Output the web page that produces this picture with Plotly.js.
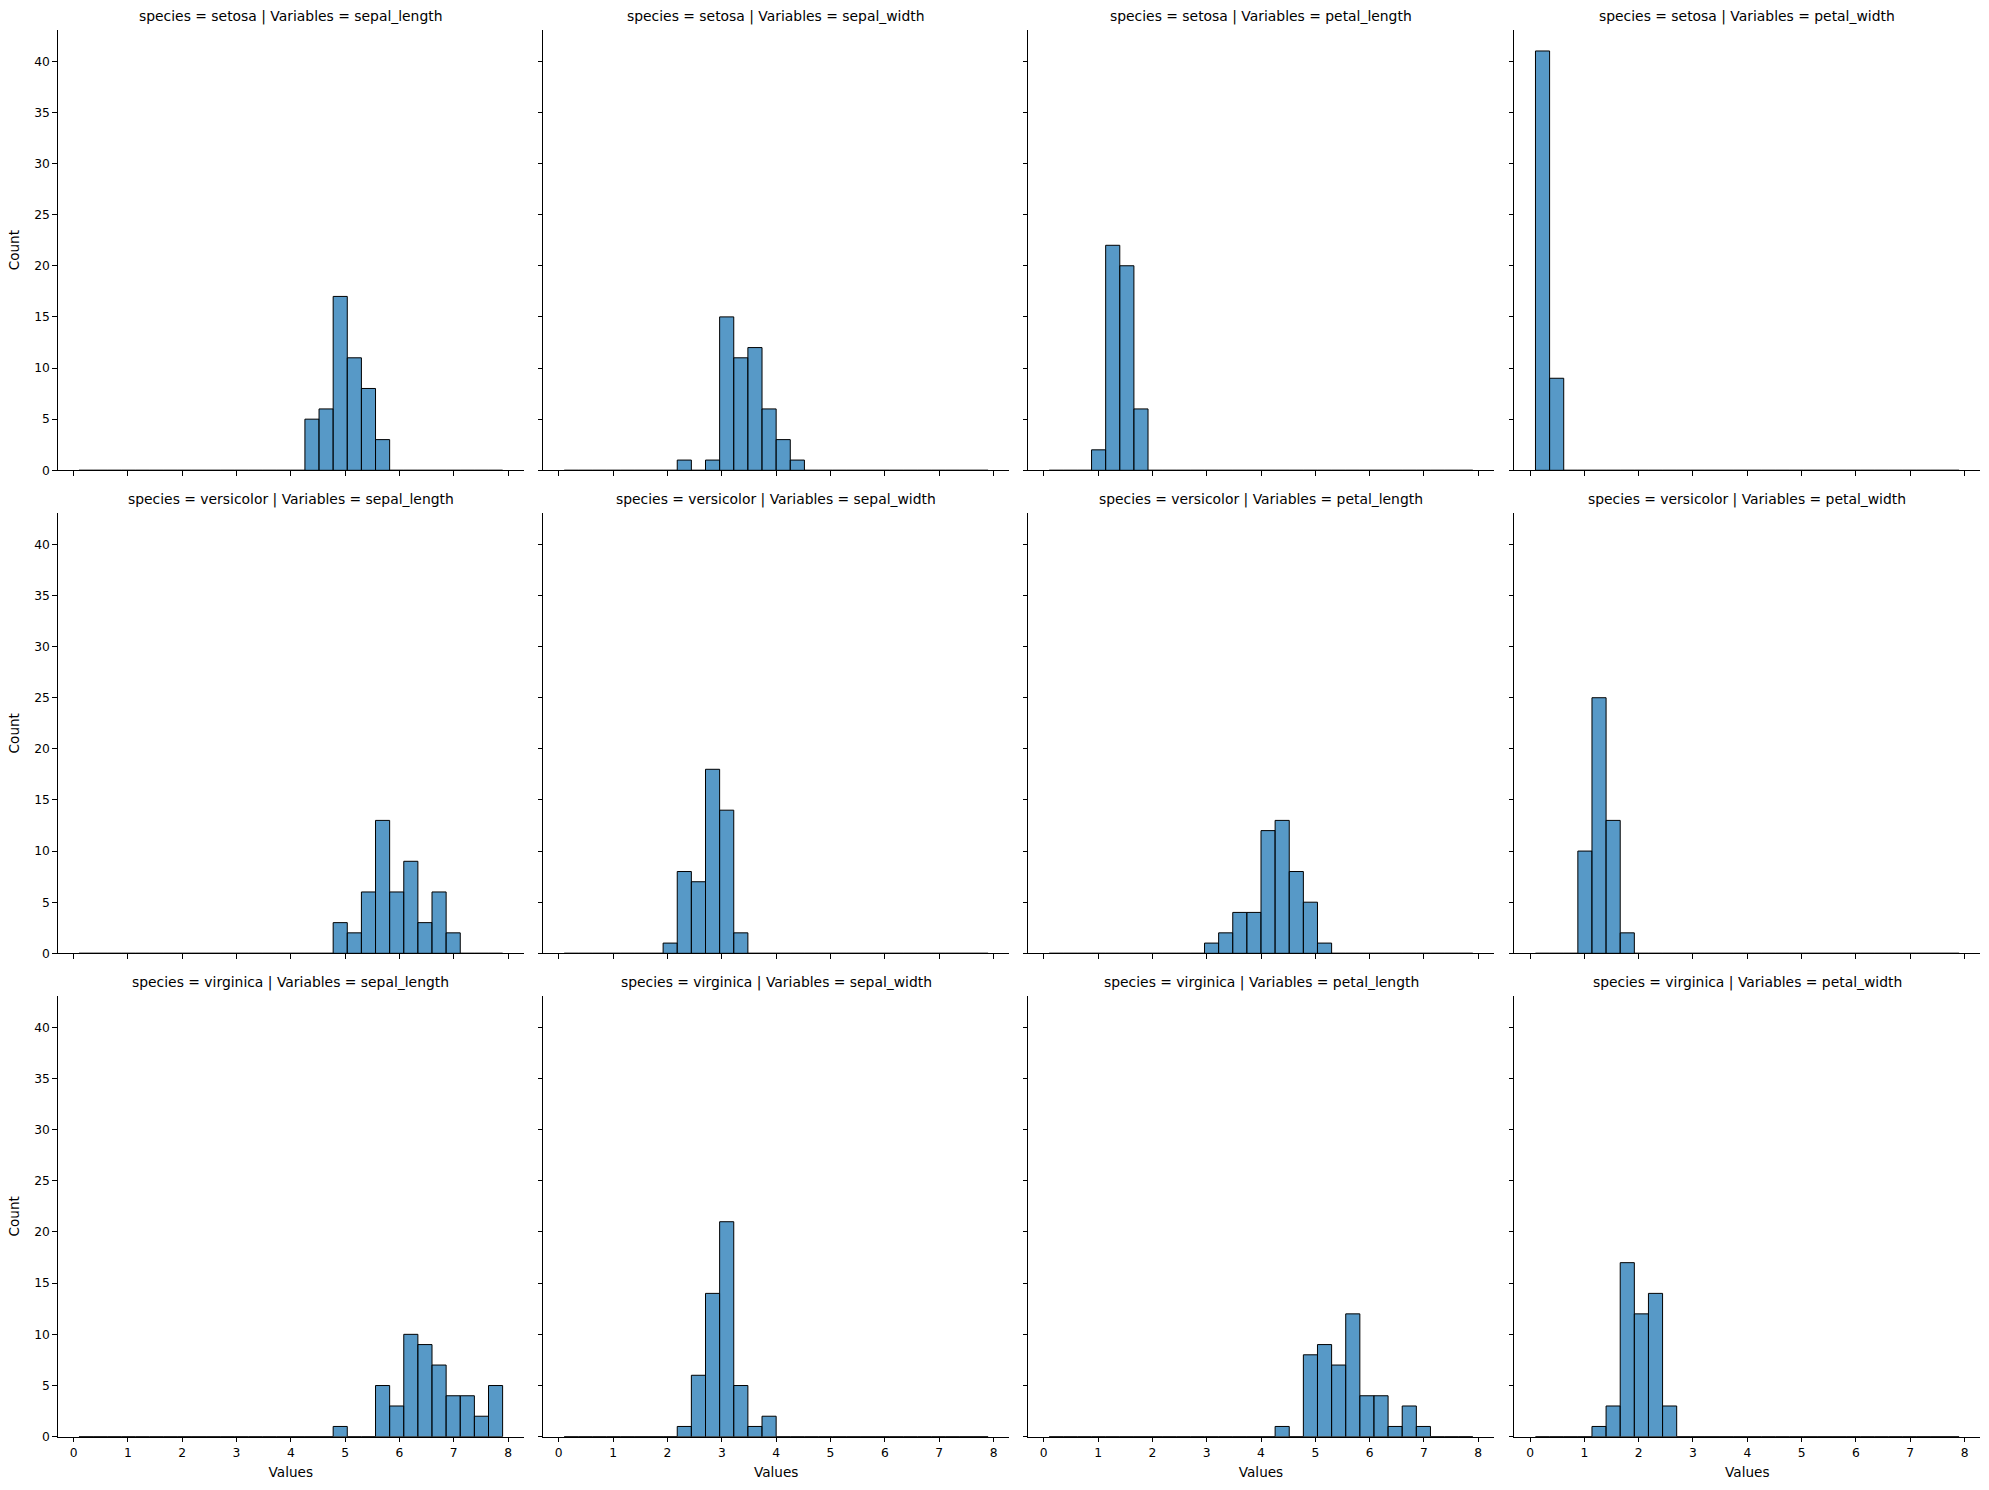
<!DOCTYPE html>
<html>
<head>
<meta charset="utf-8">
<script src="https://cdn.plot.ly/plotly-3.0.1.min.js"></script>
<style>
  html, body { margin: 0; padding: 0; background: #ffffff; }
  #chart { width: 1989px; height: 1490px; }
</style>
</head>
<body>
<div id="chart"></div>
<script>
// ---- Data ----
const species = ["setosa", "versicolor", "virginica"];
const variables = ["sepal_length", "sepal_width", "petal_length", "petal_width"];

// 30 shared histogram bins (31 edges)
const binEdges = [0.1, 0.36, 0.62, 0.88, 1.14, 1.4, 1.66, 1.92, 2.18, 2.44, 2.7, 2.96, 3.22, 3.48, 3.74,
                  4.0, 4.26, 4.52, 4.78, 5.04, 5.3, 5.56, 5.82, 6.08, 6.34, 6.6, 6.86, 7.12, 7.38, 7.64, 7.9];

const setosaSepalLength     = [0,0,0,0,0,0,0,0,0,0,0,0,0,0,0,0,5,6,17,11,8,3,0,0,0,0,0,0,0,0];
const setosaSepalWidth      = [0,0,0,0,0,0,0,0,1,0,1,15,11,12,6,3,1,0,0,0,0,0,0,0,0,0,0,0,0,0];
const setosaPetalLength     = [0,0,0,2,22,20,6,0,0,0,0,0,0,0,0,0,0,0,0,0,0,0,0,0,0,0,0,0,0,0];
const setosaPetalWidth      = [41,9,0,0,0,0,0,0,0,0,0,0,0,0,0,0,0,0,0,0,0,0,0,0,0,0,0,0,0,0];

const versicolorSepalLength = [0,0,0,0,0,0,0,0,0,0,0,0,0,0,0,0,0,0,3,2,6,13,6,9,3,6,2,0,0,0];
const versicolorSepalWidth  = [0,0,0,0,0,0,0,1,8,7,18,14,2,0,0,0,0,0,0,0,0,0,0,0,0,0,0,0,0,0];
const versicolorPetalLength = [0,0,0,0,0,0,0,0,0,0,0,1,2,4,4,12,13,8,5,1,0,0,0,0,0,0,0,0,0,0];
const versicolorPetalWidth  = [0,0,0,10,25,13,2,0,0,0,0,0,0,0,0,0,0,0,0,0,0,0,0,0,0,0,0,0,0,0];

const virginicaSepalLength  = [0,0,0,0,0,0,0,0,0,0,0,0,0,0,0,0,0,0,1,0,0,5,3,10,9,7,4,4,2,5];
const virginicaSepalWidth   = [0,0,0,0,0,0,0,0,1,6,14,21,5,1,2,0,0,0,0,0,0,0,0,0,0,0,0,0,0,0];
const virginicaPetalLength  = [0,0,0,0,0,0,0,0,0,0,0,0,0,0,0,0,1,0,8,9,7,12,4,4,1,3,1,0,0,0];
const virginicaPetalWidth   = [0,0,0,0,1,3,17,12,14,3,0,0,0,0,0,0,0,0,0,0,0,0,0,0,0,0,0,0,0,0];

const xTickVals = [0, 1, 2, 3, 4, 5, 6, 7, 8];
const yTickVals = [0, 5, 10, 15, 20, 25, 30, 35, 40];

const counts = [
  [setosaSepalLength, setosaSepalWidth, setosaPetalLength, setosaPetalWidth],
  [versicolorSepalLength, versicolorSepalWidth, versicolorPetalLength, versicolorPetalWidth],
  [virginicaSepalLength, virginicaSepalWidth, virginicaPetalLength, virginicaPetalWidth]
];

// ---- Layout geometry (pixels) ----
const W = 1989, H = 1490;
const colPx = [[57.8, 523.8], [543, 1009.3], [1028, 1494], [1514.3, 1980.3]];
const rowPx = [[30, 470.3], [513.2, 953.3], [996, 1436.7]];

const FONT = "DejaVu Sans, Liberation Sans, sans-serif";
const centers = binEdges.slice(0, -1).map((e, i) => (e + binEdges[i + 1]) / 2);
const widths = binEdges.slice(0, -1).map((e, i) => binEdges[i + 1] - e);

const traces = [];
const layout = {
  width: W, height: H,
  margin: {l: 0, r: 0, t: 0, b: 0, pad: 0},
  paper_bgcolor: "#ffffff",
  plot_bgcolor: "rgba(0,0,0,0)",
  showlegend: false,
  font: {family: FONT, size: 12, color: "#000000"},
  annotations: []
};

for (let r = 0; r < 3; r++) {
  for (let c = 0; c < 4; c++) {
    const idx = r * 4 + c + 1;
    const xName = idx === 1 ? "x" : "x" + idx;
    const yName = idx === 1 ? "y" : "y" + idx;
    const xKey = idx === 1 ? "xaxis" : "xaxis" + idx;
    const yKey = idx === 1 ? "yaxis" : "yaxis" + idx;

    traces.push({
      type: "bar",
      x: centers,
      y: counts[r][c],
      width: widths,
      xaxis: xName,
      yaxis: yName,
      marker: {color: "rgba(31,119,180,0.75)", line: {color: "#000000", width: 1}},
      hoverinfo: "x+y"
    });

    layout[xKey] = {
      domain: [colPx[c][0] / W, colPx[c][1] / W],
      anchor: yName,
      range: [-0.29, 8.29],
      tickmode: "array",
      tickvals: xTickVals,
      ticktext: xTickVals.map(String),
      showticklabels: r === 2,
      ticks: "outside", ticklen: 4.5, tickwidth: 1, tickcolor: "#000000",
      showline: true, linecolor: "#000000", linewidth: 1,
      showgrid: false, zeroline: false,
      tickfont: {family: FONT, size: 12.3, color: "#000000"},
      title: r === 2 ? {text: "Values", font: {family: FONT, size: 13.6, color: "#000000"}, standoff: 8} : {text: ""},
      automargin: false
    };
    layout[yKey] = {
      domain: [1 - rowPx[r][1] / H, 1 - rowPx[r][0] / H],
      anchor: xName,
      range: [0, 43.05],
      tickmode: "array",
      tickvals: yTickVals,
      ticktext: yTickVals.map(String),
      showticklabels: c === 0,
      ticks: "outside", ticklen: 4.5, tickwidth: 1, tickcolor: "#000000",
      showline: true, linecolor: "#000000", linewidth: 1,
      showgrid: false, zeroline: false,
      tickfont: {family: FONT, size: 12.3, color: "#000000"},
      title: c === 0 ? {text: "Count", font: {family: FONT, size: 13.6, color: "#000000"}, standoff: 11} : {text: ""},
      automargin: false
    };

    layout.annotations.push({
      text: "species = " + species[r] + " | Variables = " + variables[c],
      xref: "paper", yref: "paper",
      x: (colPx[c][0] + colPx[c][1]) / 2 / W,
      y: 1 - (rowPx[r][0] - 14) / H,
      xanchor: "center", yanchor: "middle",
      showarrow: false,
      font: {family: FONT, size: 13.9, color: "#000000"}
    });
  }
}

Plotly.newPlot("chart", traces, layout, {displayModeBar: false, staticPlot: true});
</script>
</body>
</html>
